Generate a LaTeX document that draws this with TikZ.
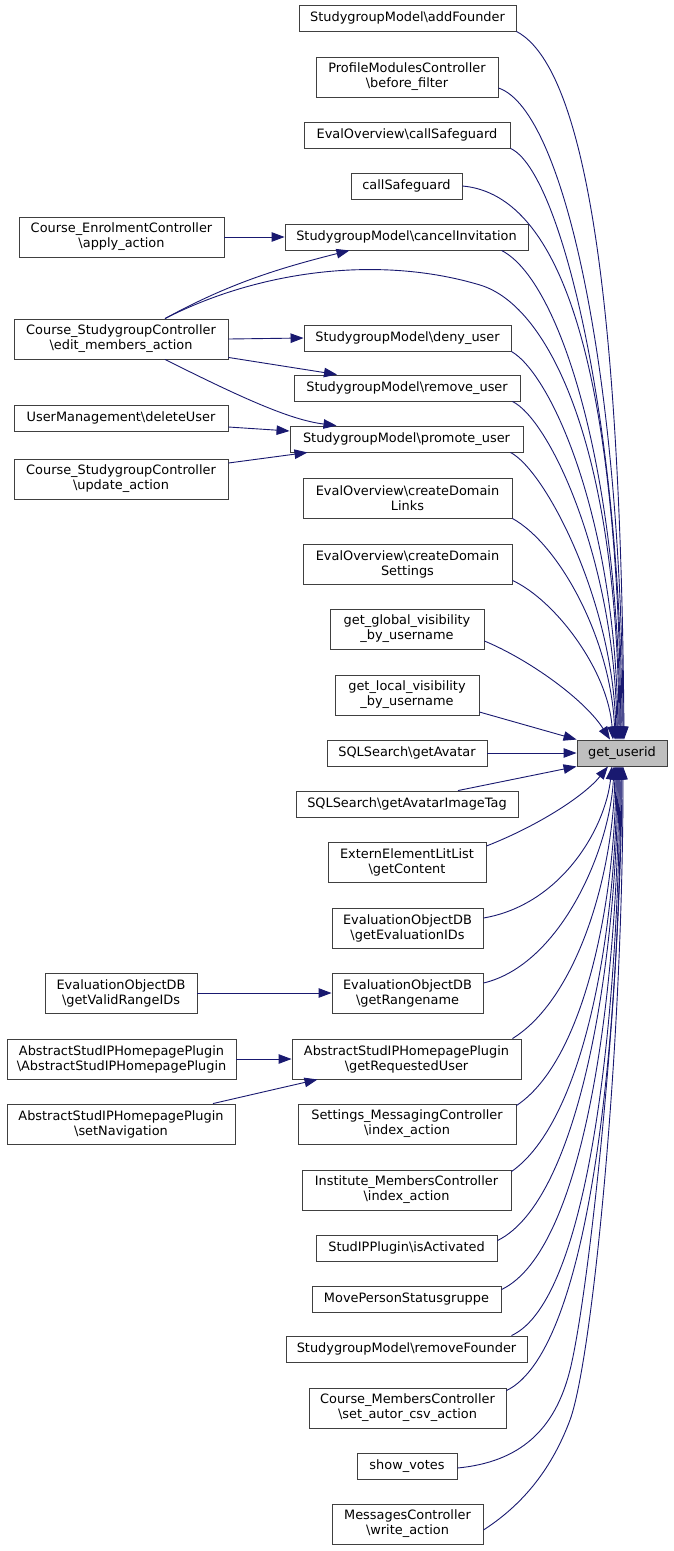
\documentclass[tikz,border=0pt]{standalone}
\usepackage{fontspec}
\setmainfont{DejaVu Sans}
\usetikzlibrary{arrows.meta}
\definecolor{edgeblue}{HTML}{191970}
\definecolor{boxgray}{HTML}{BFBFBF}
\begin{document}
\begin{tikzpicture}[x=1pt,y=-1pt,
 box/.style={draw=black!75, line width=0.9pt, fill=white, font=\fontsize{12.9}{15}\selectfont, inner xsep=2pt, inner ysep=1pt, align=center, minimum height=26pt},
 two/.style={box, minimum height=40pt},
 e/.style={draw=edgeblue, line width=0.9pt, -{Triangle[length=13pt,width=9.5pt]}}]
\useasboundingbox (0,0) rectangle (673,1551);
\fill[white] (0,0) rectangle (673,1551);

\node[box, fill=boxgray, minimum width=90pt] (T) at (622,753) {get\_userid};

\node[box, minimum width=217pt] (n1) at (407.5,18) {StudygroupModel\textbackslash addFounder};
\node[two, minimum width=182pt] (n2) at (407,77) {ProfileModulesController\\\textbackslash before\_filter};
\node[box, minimum width=206pt] (n3) at (407,135) {EvalOverview\textbackslash callSafeguard};
\node[box, minimum width=111pt] (n4) at (406.5,186) {callSafeguard};
\node[box, minimum width=243pt] (n5) at (406.5,237) {StudygroupModel\textbackslash cancelInvitation};
\node[box, minimum width=207pt] (n6) at (407.5,338) {StudygroupModel\textbackslash deny\_user};
\node[box, minimum width=226pt] (n7) at (407,388) {StudygroupModel\textbackslash remove\_user};
\node[box, minimum width=233pt] (n8) at (406.5,439) {StudygroupModel\textbackslash promote\_user};
\node[two, minimum width=209pt] (n9) at (407.5,498) {EvalOverview\textbackslash createDomain\\Links};
\node[two, minimum width=209pt] (n10) at (407.5,564) {EvalOverview\textbackslash createDomain\\Settings};
\node[two, minimum width=154pt] (n11) at (407,629) {get\_global\_visibility\\\_by\_username};
\node[two, minimum width=144pt] (n12) at (407,695) {get\_local\_visibility\\\_by\_username};
\node[box, minimum width=160pt] (n13) at (407,753) {SQLSearch\textbackslash getAvatar};
\node[box, minimum width=222pt] (n14) at (407,804) {SQLSearch\textbackslash getAvatarImageTag};
\node[two, minimum width=158pt] (n15) at (407,862) {ExternElementLitList\\\textbackslash getContent};
\node[two, minimum width=151pt] (n16) at (407.5,928) {EvaluationObjectDB\\\textbackslash getEvaluationIDs};
\node[two, minimum width=151pt] (n17) at (407.5,993) {EvaluationObjectDB\\\textbackslash getRangename};
\node[two, minimum width=229pt] (n18) at (406.5,1059) {AbstractStudIPHomepagePlugin\\\textbackslash getRequestedUser};
\node[two, minimum width=218pt] (n19) at (407,1124) {Settings\_MessagingController\\\textbackslash index\_action};
\node[two, minimum width=209pt] (n20) at (406.5,1190) {Institute\_MembersController\\\textbackslash index\_action};
\node[box, minimum width=181pt] (n21) at (406.5,1248) {StudIPPlugin\textbackslash isActivated};
\node[box, minimum width=189pt] (n22) at (406.5,1299) {MovePersonStatusgruppe};
\node[box, minimum width=241pt] (n23) at (406.5,1349) {StudygroupModel\textbackslash removeFounder};
\node[two, minimum width=197pt] (n24) at (407.5,1408) {Course\_MembersController\\\textbackslash set\_autor\_csv\_action};
\node[box, minimum width=100pt] (n25) at (407,1466) {show\_votes};
\node[two, minimum width=151pt] (n26) at (407.5,1524) {MessagesController\\\textbackslash write\_action};

\node[two, minimum width=205pt] (L1) at (121.5,237) {Course\_EnrolmentController\\\textbackslash apply\_action};
\node[two, minimum width=214pt] (L2) at (121,339) {Course\_StudygroupController\\\textbackslash edit\_members\_action};
\node[box, minimum width=214pt] (L3) at (121,418) {UserManagement\textbackslash deleteUser};
\node[two, minimum width=214pt] (L4) at (121,479) {Course\_StudygroupController\\\textbackslash update\_action};
\node[two, minimum width=152pt] (L5) at (121,993) {EvaluationObjectDB\\\textbackslash getValidRangeIDs};
\node[two, minimum width=229pt] (L6) at (121.5,1059) {AbstractStudIPHomepagePlugin\\\textbackslash AbstractStudIPHomepagePlugin};
\node[two, minimum width=228pt] (L7) at (121,1124) {AbstractStudIPHomepagePlugin\\\textbackslash setNavigation};

% upper bundle into get_userid
\draw[e] (n1.south east) .. controls (590,70) and (621,330) .. ([xshift=2pt]T.north);
\draw[e] ([yshift=-11pt]n2.east) .. controls (565,110) and (622,380) .. ([xshift=1pt]T.north);
\draw[e] (n3.south east) .. controls (560,170) and (621,420) .. (T.north);
\draw[e] (n4.east) .. controls (565,195) and (618,380) .. ([xshift=-1pt]T.north);
\draw[e] ([xshift=95pt]n5.south) .. controls (560,280) and (619,470) .. ([xshift=-2pt]T.north);
\draw[e] ([xshift=44pt]L2.north) .. controls (260,270) and (380,255) .. (480,285) .. controls (550,306) and (618,450) .. ([xshift=-3pt]T.north);
\draw[e] (n6.south east) .. controls (552,375) and (616,520) .. ([xshift=-4pt]T.north);
\draw[e] ([xshift=-8pt]n7.south east) .. controls (550,420) and (615,560) .. ([xshift=-5pt]T.north);
\draw[e] ([xshift=-13pt]n8.south east) .. controls (545,470) and (613,600) .. ([xshift=-6pt]T.north);
\draw[e] (n9.south east) .. controls (560,545) and (611,640) .. ([xshift=-7pt]T.north);
\draw[e] ([yshift=4pt]n10.south east) .. controls (555,600) and (608,670) .. ([xshift=-9pt]T.north);
\draw[e] ([yshift=-12pt]n11.east) .. controls (530,660) and (585,700) .. ([xshift=-12pt]T.north);
\draw[e] ([yshift=-17pt]n12.east) -- (T.north west);
\draw[e] (n13.east) -- (T.west);
\draw[e] ([xshift=51pt]n14.north) -- (T.south west);

% lower bundle into get_userid
\draw[e] ([yshift=16pt]n15.east) .. controls (540,825) and (585,795) .. ([xshift=-14pt]T.south);
\draw[e] ([yshift=10pt]n16.east) .. controls (560,905) and (605,830) .. ([xshift=-10pt]T.south);
\draw[e] ([yshift=10pt]n17.east) .. controls (560,965) and (610,850) .. ([xshift=-8pt]T.south);
\draw[e] ([xshift=-9pt]n18.north east) .. controls (575,1000) and (613,880) .. ([xshift=-7pt]T.south);
\draw[e] ([yshift=-2pt]n19.north east) .. controls (585,1060) and (615,900) .. ([xshift=-6pt]T.south);
\draw[e] ([yshift=-2pt]n20.north east) .. controls (585,1120) and (616,930) .. ([xshift=-5pt]T.south);
\draw[e] ([yshift=-6pt]n21.north east) .. controls (580,1200) and (617,960) .. ([xshift=-4pt]T.south);
\draw[e] ([yshift=-4pt]n22.north east) .. controls (585,1250) and (618,990) .. ([xshift=-3pt]T.south);
\draw[e] ([xshift=-16pt]n23.north east) .. controls (590,1300) and (619,1010) .. ([xshift=-2pt]T.south);
\draw[e] ([yshift=-3pt]n24.north east) .. controls (590,1350) and (620,1040) .. ([xshift=-1pt]T.south);
\draw[e] ([yshift=-2pt]n25.east) .. controls (520,1462) and (555,1430) .. (570,1370) .. controls (588,1298) and (621,1000) .. (T.south);
\draw[e] ([yshift=-6pt]n26.east) .. controls (530,1500) and (555,1460) .. (570,1420) .. controls (592,1360) and (623,1050) .. ([xshift=1pt]T.south);

% left column edges
\draw[e] (L1.east) -- (n5.west);
\draw[e] ([xshift=44pt]L2.north) .. controls (230,283) and (280,268) .. ([xshift=-57pt]n5.south);
\draw[e] (L2.east) -- (n6.west);
\draw[e] ([yshift=2pt]L2.south east) -- ([xshift=-70pt]n7.north);
\draw[e] ([xshift=44pt]L2.south) .. controls (240,397) and (290,420) .. ([xshift=-70pt]n8.north);
\draw[e] ([yshift=-9pt]L3.east) -- ([yshift=8pt]n8.west);
\draw[e] ([yshift=16pt]L4.east) -- ([xshift=-99pt]n8.south);
\draw[e] (L5.east) -- (n17.west);
\draw[e] (L6.east) -- (n18.west);
\draw[e] ([xshift=92pt]L7.north) -- ([xshift=-89pt]n18.south);
\end{tikzpicture}
\end{document}
